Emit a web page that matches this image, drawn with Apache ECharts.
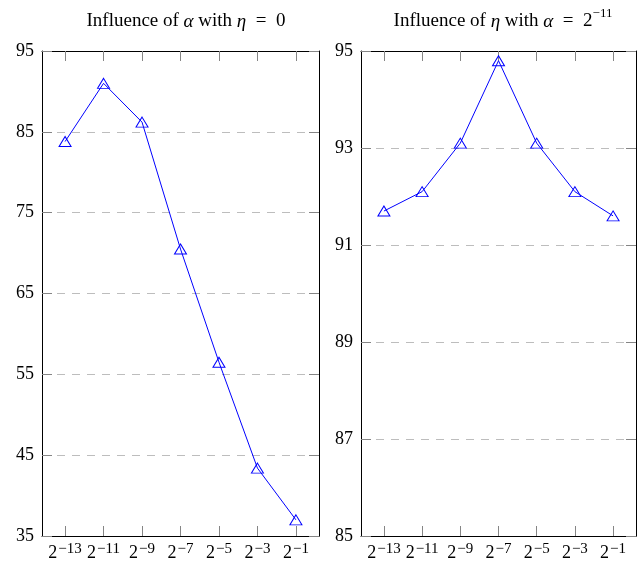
<!DOCTYPE html>
<html>
<head>
<meta charset="UTF-8">
<script src="https://cdn.jsdelivr.net/npm/echarts@6/dist/echarts.min.js"></script>
<style>
html, body { margin: 0; padding: 0; background: #fff; }
#main { width: 637px; height: 562px; }
</style>
</head>
<body>
<div id="main"></div>
<script type="text/javascript">
// exponents of 2 on the x axis
var exponents = [-13, -11, -9, -7, -5, -3, -1];
// accuracy vs alpha (eta = 0)
var alphaAcc = [83.8, 91.0, 86.2, 70.5, 56.5, 43.4, 37.0];
// accuracy vs eta (alpha = 2^-11)
var etaAcc = [91.7, 92.1, 93.1, 94.8, 93.1, 92.1, 91.6];
var leftTicks = [35, 45, 55, 65, 75, 85, 95];
var rightTicks = [85, 87, 89, 91, 93, 95];

var FONT = '"Liberation Serif", "DejaVu Serif", serif';
var TICK = '#858585';
var myChart = echarts.init(document.getElementById('main'));

function pairs(vals) {
    return exponents.map(function (e, i) { return [e, vals[i]]; });
}

var richLabel = {
    b: { fontSize: 18, fontFamily: FONT, color: '#000', lineHeight: 20, verticalAlign: 'bottom' },
    s: { fontSize: 15, fontFamily: FONT, color: '#000', lineHeight: 15, verticalAlign: 'top', padding: [0, 0, 0, 1] }
};

// box axes, ticks pointing into the plot
function xAxes(gi) {
    var base = {
        type: 'value', gridIndex: gi, min: -14.2, max: 0.2,
        axisLine: { show: true, onZero: false, lineStyle: { color: '#000', width: 1 } },
        axisTick: { show: true, inside: true, length: 10, customValues: exponents, lineStyle: { color: TICK } },
        splitLine: { show: false }
    };
    var bottom = Object.assign({}, base, {
        position: 'bottom',
        axisLabel: {
            show: true, margin: 6, customValues: exponents,
            formatter: function (v) { return '{b|2}{s|\u2212' + Math.abs(v) + '}'; },
            rich: richLabel
        }
    });
    var top = Object.assign({}, base, { position: 'top', axisLabel: { show: false } });
    return [bottom, top];
}

function yAxes(gi, ticks) {
    var base = {
        type: 'value', gridIndex: gi, min: ticks[0], max: ticks[ticks.length - 1],
        interval: ticks[1] - ticks[0],
        axisLine: { show: true, onZero: false, lineStyle: { color: '#000', width: 1 } },
        axisTick: { show: true, inside: true, length: 10, lineStyle: { color: TICK } }
    };
    var left = Object.assign({}, base, {
        position: 'left',
        axisLabel: { show: true, margin: 8, fontSize: 18, fontFamily: FONT, color: '#000' },
        splitLine: { show: true, lineStyle: { color: '#bdbdbd', type: [8, 7], width: 1 } }
    });
    var right = Object.assign({}, base, { position: 'right', axisLabel: { show: false }, splitLine: { show: false } });
    return [left, right];
}

var seriesCommon = {
    type: 'line',
    symbol: 'triangle',
    symbolSize: [12, 10],
    lineStyle: { color: '#0000ff', width: 1 },
    itemStyle: { color: 'rgba(0,0,0,0)', borderColor: '#0000ff', borderWidth: 1 },
    emphasis: { disabled: true },
    z: 3
};

var titleRich = {
    t: { fontSize: 19, fontWeight: 'normal', fontFamily: FONT, color: '#000', lineHeight: 24, verticalAlign: 'bottom' },
    i: { fontSize: 19, fontWeight: 'normal', fontFamily: FONT, fontStyle: 'italic', color: '#000', lineHeight: 24, verticalAlign: 'bottom' },
    s: { fontSize: 13, fontWeight: 'normal', fontFamily: FONT, color: '#000', lineHeight: 13, verticalAlign: 'top' }
};

var option = {
    animation: false,
    title: [
        {
            text: '{t|Influence of }{i|\u03b1}{t| with }{i|\u03b7}{t|  =  0}',
            left: 181, top: 2, textAlign: 'center',
            textStyle: { fontWeight: 'normal', rich: titleRich }
        },
        {
            text: '{t|Influence of }{i|\u03b7}{t| with }{i|\u03b1}{t|  =  2}{s|\u221211}',
            left: 498, top: 2, textAlign: 'center',
            textStyle: { fontWeight: 'normal', rich: titleRich }
        }
    ],
    grid: [
        { left: 42, top: 51, width: 277, height: 485 },
        { left: 361, top: 51, width: 275, height: 485 }
    ],
    xAxis: xAxes(0).concat(xAxes(1)),
    yAxis: yAxes(0, leftTicks).concat(yAxes(1, rightTicks)),
    series: [
        Object.assign({}, seriesCommon, { xAxisIndex: 0, yAxisIndex: 0, data: pairs(alphaAcc) }),
        Object.assign({}, seriesCommon, { xAxisIndex: 2, yAxisIndex: 2, data: pairs(etaAcc) })
    ]
};

myChart.setOption(option);
</script>
</body>
</html>
